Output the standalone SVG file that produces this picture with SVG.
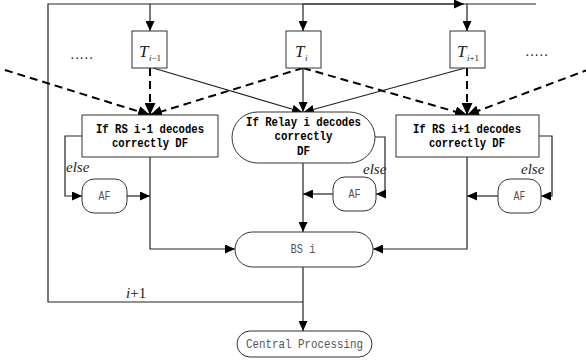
<svg xmlns="http://www.w3.org/2000/svg" width="586" height="362" viewBox="0 0 586 362">
<defs>
<marker id="ah" markerWidth="10" markerHeight="9" refX="10" refY="4.5" orient="auto" markerUnits="userSpaceOnUse"><path d="M0,0 L10,4.5 L0,9 z" fill="#000"/></marker>
<marker id="ahd" markerWidth="12" markerHeight="11" refX="12" refY="5.5" orient="auto" markerUnits="userSpaceOnUse"><path d="M0,0 L12,5.5 L0,11 z" fill="#000"/></marker>
</defs>
<style>
.box{fill:#fff;stroke:#333;stroke-width:1}
.ln{fill:none;stroke:#222;stroke-width:1.2}
.dl{fill:none;stroke:#000;stroke-width:2;stroke-dasharray:8,5}
.bt{font-family:"Liberation Mono",monospace;font-weight:bold;font-size:12.5px;fill:#000;text-anchor:middle}
.lt{font-family:"Liberation Mono",monospace;font-size:12px;fill:#555;text-anchor:middle}
.it{font-family:"Liberation Serif",serif;font-style:italic;fill:#222}
.dots{font-family:"Liberation Serif",serif;font-size:14px;fill:#222}
</style>
<g id="connectors">
<path class="ln" d="M303,302 H48 V4 H536"/>
<path class="ln" d="M303,4 H464" marker-end="url(#ah)"/>
<path class="ln" d="M150,4 V31" marker-end="url(#ah)"/>
<path class="ln" d="M303,4 V31" marker-end="url(#ah)"/>
<path class="ln" d="M467,4 V31" marker-end="url(#ah)"/>
<path class="dl" d="M5,70 L150,115" marker-end="url(#ahd)"/>
<path class="dl" d="M150,68 V115" marker-end="url(#ahd)"/>
<path class="dl" d="M303,68 L150,115" marker-end="url(#ahd)"/>
<path class="dl" d="M303,68 L467,115" marker-end="url(#ahd)"/>
<path class="dl" d="M467,68 V115" marker-end="url(#ahd)"/>
<path class="dl" d="M590,69 L467,115" marker-end="url(#ahd)"/>
<path class="ln" d="M153,68 L302,112" marker-end="url(#ah)"/>
<path class="ln" d="M303,68 V112" marker-end="url(#ah)"/>
<path class="ln" d="M465,68 L304,112" marker-end="url(#ah)"/>
<path class="ln" d="M82,136 H65 V196 H82" marker-end="url(#ah)"/>
<path class="ln" d="M127,196 H150" marker-end="url(#ah)"/>
<path class="ln" d="M150,157 V249 H235" marker-end="url(#ah)"/>
<path class="ln" d="M375,137 H385 V194 H376" marker-end="url(#ah)"/>
<path class="ln" d="M333,194 H303" marker-end="url(#ah)"/>
<path class="ln" d="M303,163 V232" marker-end="url(#ah)"/>
<path class="ln" d="M539,136 H552 V196 H541" marker-end="url(#ah)"/>
<path class="ln" d="M498,196 H467" marker-end="url(#ah)"/>
<path class="ln" d="M467,157 V249 H373" marker-end="url(#ah)"/>
<path class="ln" d="M303,267 V331" marker-end="url(#ah)"/>
</g>
<g id="dots-left"><text class="dots" x="70" y="63">·····</text></g>
<g id="dots-right"><text class="dots" x="525" y="60">·····</text></g>
<g id="T_im1">
<rect class="box" x="132" y="31" width="35" height="37"/>
<text class="it" x="139" y="57" font-size="17">T</text>
<text x="149" y="61" font-family="Liberation Serif,serif" font-size="9" fill="#222"><tspan font-style="italic">i</tspan>−1</text>
</g>
<g id="T_i">
<rect class="box" x="286" y="31" width="35" height="37"/>
<text class="it" x="295" y="57" font-size="17">T</text>
<text class="it" x="305" y="61" font-size="9">i</text>
</g>
<g id="T_ip1">
<rect class="box" x="450" y="31" width="35" height="37"/>
<text class="it" x="457" y="57" font-size="17">T</text>
<text x="467" y="61" font-family="Liberation Serif,serif" font-size="9" fill="#222"><tspan font-style="italic">i</tspan>+1</text>
</g>
<g id="RS_im1">
<rect class="box" x="82" y="115" width="136" height="42"/>
<text class="bt" x="150" y="133" textLength="108" lengthAdjust="spacingAndGlyphs">If RS i-1 decodes</text>
<text class="bt" x="150" y="147" textLength="76" lengthAdjust="spacingAndGlyphs">correctly DF</text>
</g>
<g id="Relay_i">
<rect class="box" x="232" y="112" width="143" height="51" rx="25.5"/>
<text class="bt" x="303.5" y="126" textLength="115" lengthAdjust="spacingAndGlyphs">If Relay i decodes</text>
<text class="bt" x="303.5" y="140" textLength="58" lengthAdjust="spacingAndGlyphs">correctly</text>
<text class="bt" x="303.5" y="155" textLength="13" lengthAdjust="spacingAndGlyphs">DF</text>
</g>
<g id="RS_ip1">
<rect class="box" x="396" y="115" width="143" height="42"/>
<text class="bt" x="467" y="133" textLength="108" lengthAdjust="spacingAndGlyphs">If RS i+1 decodes</text>
<text class="bt" x="467" y="147" textLength="76" lengthAdjust="spacingAndGlyphs">correctly DF</text>
</g>
<g id="AF_left">
<rect class="box" x="82" y="179" width="45" height="34" rx="12"/>
<text class="lt" x="104.5" y="200" textLength="12" lengthAdjust="spacingAndGlyphs">AF</text>
</g>
<g id="AF_mid">
<rect class="box" x="333" y="177" width="43" height="34" rx="12"/>
<text class="lt" x="354.5" y="198" textLength="12" lengthAdjust="spacingAndGlyphs">AF</text>
</g>
<g id="AF_right">
<rect class="box" x="498" y="179" width="43" height="34" rx="12"/>
<text class="lt" x="519.5" y="200" textLength="12" lengthAdjust="spacingAndGlyphs">AF</text>
</g>
<g id="labels">
<text class="it" x="66" y="172" font-size="15">else</text>
<text class="it" x="363" y="174" font-size="15">else</text>
<text class="it" x="521" y="174" font-size="15">else</text>
<text x="126" y="298" font-family="Liberation Serif,serif" font-size="15" fill="#222"><tspan font-style="italic">i</tspan>+1</text>
</g>
<g id="BS_i">
<rect class="box" x="235" y="232" width="138" height="35" rx="17.5"/>
<text class="lt" x="303" y="253" textLength="25" lengthAdjust="spacingAndGlyphs">BS i</text>
</g>
<g id="Central">
<rect class="box" x="237" y="331" width="135" height="26" rx="13"/>
<text class="lt" x="304.5" y="348" textLength="117" lengthAdjust="spacingAndGlyphs">Central Processing</text>
</g>
</svg>
